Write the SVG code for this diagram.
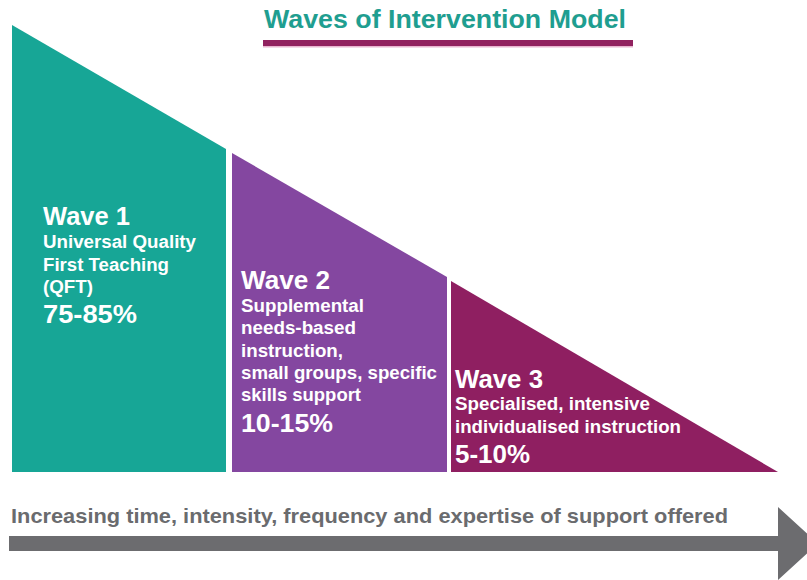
<svg xmlns="http://www.w3.org/2000/svg" width="807" height="580" viewBox="0 0 807 580">
  <style>
    .lbl { font-family: "Liberation Sans", Arial, sans-serif; font-weight: bold; fill: #ffffff; }
    .head { font-size: 25px; }
    .body { font-size: 18px; }
    .pct { font-size: 25px; }
    .title { font-family: "Liberation Sans", Arial, sans-serif; font-weight: bold; font-size: 26px; fill: #1f9e90; }
    .axis { font-family: "Liberation Sans", Arial, sans-serif; font-weight: bold; font-size: 21px; fill: #6a6b6e; }
  </style>

  <rect width="807" height="580" fill="#ffffff"/>

  <!-- heading -->
  <g id="title">
    <text class="title" x="264" y="28" textLength="362" lengthAdjust="spacingAndGlyphs">Waves of Intervention Model</text>
    <rect x="263" y="40" width="370" height="6" fill="#91215f"/>
    <rect x="263" y="46" width="370" height="1.5" fill="#e8b5cf"/>
  </g>

  <!-- Wave 1 -->
  <g id="wave1">
    <polygon points="12,25 226,149 226,472 12,472" fill="#17a696"/>
    <text class="lbl head" x="43" y="225" textLength="87" lengthAdjust="spacingAndGlyphs">Wave 1</text>
    <text class="lbl body" x="43" y="248" textLength="153" lengthAdjust="spacingAndGlyphs">Universal Quality</text>
    <text class="lbl body" x="43" y="271" textLength="126" lengthAdjust="spacingAndGlyphs">First Teaching</text>
    <text class="lbl body" x="43" y="293" textLength="50" lengthAdjust="spacingAndGlyphs">(QFT)</text>
    <text class="lbl pct" x="43" y="323" textLength="94" lengthAdjust="spacingAndGlyphs">75-85%</text>
  </g>

  <!-- Wave 2 -->
  <g id="wave2">
    <polygon points="232,153 447,277 447,472 232,472" fill="#8447a0"/>
    <text class="lbl head" x="241" y="289" textLength="89" lengthAdjust="spacingAndGlyphs">Wave 2</text>
    <text class="lbl body" x="241" y="312" textLength="123" lengthAdjust="spacingAndGlyphs">Supplemental</text>
    <text class="lbl body" x="241" y="334" textLength="115" lengthAdjust="spacingAndGlyphs">needs-based</text>
    <text class="lbl body" x="241" y="357" textLength="102" lengthAdjust="spacingAndGlyphs">instruction,</text>
    <text class="lbl body" x="241" y="379" textLength="196" lengthAdjust="spacingAndGlyphs">small groups, specific</text>
    <text class="lbl body" x="241" y="401" textLength="120" lengthAdjust="spacingAndGlyphs">skills support</text>
    <text class="lbl pct" x="241" y="432" textLength="92" lengthAdjust="spacingAndGlyphs">10-15%</text>
  </g>

  <!-- Wave 3 -->
  <g id="wave3">
    <polygon points="451,281 778,472 451,472" fill="#8f1f61"/>
    <text class="lbl head" x="455" y="388" textLength="88" lengthAdjust="spacingAndGlyphs">Wave 3</text>
    <text class="lbl body" x="455" y="410" textLength="195" lengthAdjust="spacingAndGlyphs">Specialised, intensive</text>
    <text class="lbl body" x="455" y="433" textLength="226" lengthAdjust="spacingAndGlyphs">individualised instruction</text>
    <text class="lbl pct" x="455" y="463" textLength="75" lengthAdjust="spacingAndGlyphs">5-10%</text>
  </g>

  <!-- support axis -->
  <g id="connectors">
    <text class="axis" x="11" y="523" textLength="717" lengthAdjust="spacingAndGlyphs">Increasing time, intensity, frequency and expertise of support offered</text>
    <polygon points="9,536 778,536 778,507 818,543.5 778,580 778,551 9,551" fill="#6c6c6f"/>
  </g>
</svg>
